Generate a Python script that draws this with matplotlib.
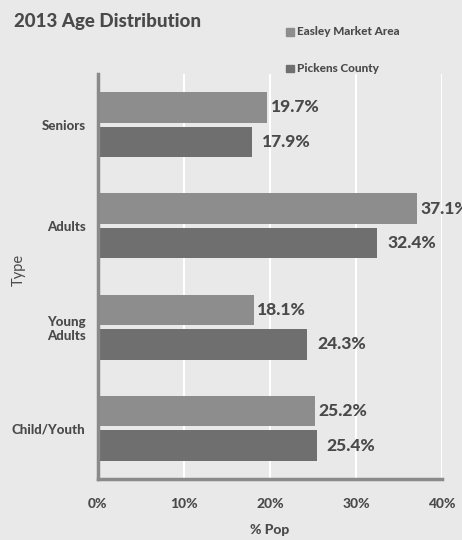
import matplotlib
matplotlib.use("Agg")
import matplotlib.pyplot as plt
import numpy as np

categories = ["Seniors", "Adults", "Young\nAdults", "Child/Youth"]
easley = [19.7, 37.1, 18.1, 25.2]
pickens = [17.9, 32.4, 24.3, 25.4]
series_names = ["Easley Market Area", "Pickens County"]
xticks = [0, 10, 20, 30, 40]

plt.rcParams['font.family'] = ['Lato', 'DejaVu Sans']
bg = '#e9e9e9'
c_easley = '#8d8d8d'
c_pickens = '#6f6f6f'
txt = '#4a4a4a'
W = 'black'

fig = plt.figure(figsize=(4.62, 5.40), dpi=100, facecolor=bg)
ax = fig.add_axes([0.212, 0.113, 0.745, 0.75], facecolor=bg)

y = np.arange(len(categories))
h = 0.3
ax.barh(y - h/2 - 0.02, easley, height=h, color=c_easley)
ax.barh(y + h/2 + 0.02, pickens, height=h, color=c_pickens)

for i in range(len(categories)):
    ax.text(easley[i] + 0.4, y[i] - h/2 - 0.02, f"{easley[i]:.1f}%", va='center', ha='left',
            fontsize=12.5, fontweight=W, color=txt, clip_on=False)
    ax.text(pickens[i] + 1.2, y[i] + h/2 + 0.02, f"{pickens[i]:.1f}%", va='center', ha='left',
            fontsize=12.5, fontweight=W, color=txt, clip_on=False)

ax.set_ylim(3.5, -0.5)
ax.set_xlim(0, 40)
ax.set_xticks(xticks)
ax.set_xticklabels([f"{t}%" for t in xticks], fontsize=10, fontweight=W, color=txt)
ax.set_yticks(y)
ax.set_yticklabels(categories, fontsize=9.5, fontweight=W, color=txt)
ax.tick_params(axis='both', length=0, pad=14)
ax.tick_params(axis='y', pad=9)
ax.grid(axis='x', color='white', linewidth=1.5)
ax.set_axisbelow(True)
for s in ['top', 'right']:
    ax.spines[s].set_visible(False)
for s in ['left', 'bottom']:
    ax.spines[s].set_color('#8a8a8a')
    ax.spines[s].set_linewidth(2.5)

ax.set_xlabel("% Pop", fontsize=10, fontweight=W, color=txt, labelpad=10)
fig.text(0.04, 0.5, "Type", rotation=90, va='center', ha='center', fontsize=10.5, color=txt)
fig.text(0.03, 0.96, "2013 Age Distribution", fontsize=13.5, fontweight=W, color=txt,
         va='center', ha='left')

# legend
for k, (name, col) in enumerate(zip(series_names, [c_easley, c_pickens])):
    yy = 0.942 - k * 0.068
    fig.patches.append(plt.Rectangle((0.62, yy - 0.008), 0.016, 0.0145, color=col,
                                     transform=fig.transFigure, figure=fig))
    fig.text(0.643, yy, name, fontsize=8.5, fontweight=W, color=txt, va='center', ha='left')

fig.savefig("out.png", dpi=100, facecolor=bg)
